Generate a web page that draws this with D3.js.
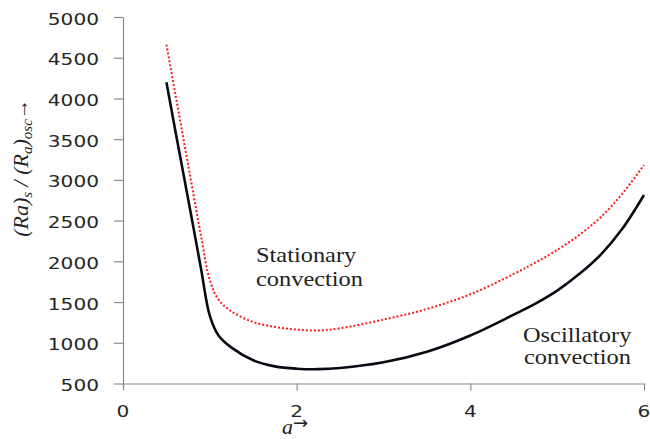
<!DOCTYPE html>
<html>
<head>
<meta charset="utf-8">
<script src="https://cdn.jsdelivr.net/npm/d3@7/dist/d3.min.js"></script>
<style>
	body { margin: 0; background: #fff; }
	svg { display: block; }
</style>
</head>
<body>
<script>
// wave number a
var waveNumbers = [0.5, 0.6, 0.7, 0.8, 0.9, 1.0, 1.1, 1.25, 1.5, 1.75, 2.0, 2.25, 2.5, 3.0, 3.5, 4.0, 4.5, 4.75, 5.0, 5.25, 5.5, 5.75, 6.0];
// (Ra)osc - oscillatory convection, solid black
var oscillatory = [4200, 3620, 3050, 2480, 1900, 1330, 1090, 940, 785, 710, 682, 676, 690, 760, 890, 1090, 1345, 1480, 1640, 1840, 2080, 2400, 2815];
// (Ra)s - stationary convection, red dotted
var stationary = [4660, 4070, 3480, 2890, 2300, 1770, 1530, 1385, 1255, 1195, 1162, 1152, 1178, 1285, 1415, 1595, 1845, 1985, 2140, 2320, 2540, 2830, 3183];
var xTicks = [0, 2, 4, 6];
var yTicks = [500, 1000, 1500, 2000, 2500, 3000, 3500, 4000, 4500, 5000];

var width = 650;
var height = 439;
var stretch = 1.22;

var xScale = d3.scaleLinear()
	.domain([0, 6])
	.range([123, 644]);

var yScale = d3.scaleLinear()
	.domain([500, 5000])
	.range([383.5, 17]);

var svg = d3.select('body')
	.append('svg')
	.attr('width', width)
	.attr('height', height);

// axes
var xAxis = d3.axisBottom(xScale)
	.tickValues(xTicks)
	.tickSizeInner(7)
	.tickSizeOuter(0)
	.tickFormat('');

var yAxis = d3.axisLeft(yScale)
	.tickValues(yTicks)
	.tickSizeInner(9)
	.tickSizeOuter(0)
	.tickFormat('');

svg.append('g')
	.attr('transform', 'translate(0,' + yScale(500) + ')')
	.call(xAxis);

svg.append('g')
	.attr('transform', 'translate(' + xScale(0) + ',0)')
	.call(yAxis);

svg.selectAll('.domain, .tick line')
	.attr('stroke', '#8a8a8a')
	.attr('stroke-width', 1.2);

// tick labels, drawn stretched like the original
svg.selectAll('.ylab')
	.data(yTicks)
	.enter()
	.append('text')
	.attr('class', 'ylab')
	.attr('transform', function(d) {
		return 'translate(99,' + (yScale(d) + 7.5) + ') scale(' + stretch + ',1)';
	})
	.attr('text-anchor', 'end')
	.attr('font-family', 'DejaVu Sans')
	.attr('font-size', 16.5)
	.attr('fill', '#262626')
	.text(function(d) { return d; });

svg.selectAll('.xlab')
	.data(xTicks)
	.enter()
	.append('text')
	.attr('class', 'xlab')
	.attr('transform', function(d) {
		return 'translate(' + xScale(d) + ',417) scale(' + stretch + ',1)';
	})
	.attr('text-anchor', 'middle')
	.attr('font-family', 'DejaVu Sans')
	.attr('font-size', 16.5)
	.attr('fill', '#262626')
	.text(function(d) { return d; });

// curves
var line = function(values) {
	return d3.line()
		.x(function(d, i) { return xScale(waveNumbers[i]); })
		.y(function(d) { return yScale(d); })
		.curve(d3.curveCatmullRom.alpha(0.5))(values);
};

svg.append('path')
	.attr('d', line(stationary))
	.attr('fill', 'none')
	.attr('stroke', '#ff1a1a')
	.attr('stroke-width', 2)
	.attr('stroke-dasharray', '2,2');

svg.append('path')
	.attr('d', line(oscillatory))
	.attr('fill', 'none')
	.attr('stroke', '#0a0a14')
	.attr('stroke-width', 2.6);

// annotations
var note = function(x, y, str) {
	svg.append('text')
		.attr('transform', 'translate(' + x + ',' + y + ') scale(' + stretch + ',1)')
		.attr('font-family', 'Liberation Serif')
		.attr('font-size', 20)
		.attr('fill', '#222')
		.text(str);
};
note(256, 262, 'Stationary');
note(256, 286, 'convection');
note(523, 342, 'Oscillatory');
note(524, 364, 'convection');

// y axis title
var yTitle = svg.append('text')
	.attr('transform', 'translate(28,168) rotate(-90)')
	.attr('text-anchor', 'middle')
	.attr('font-family', 'Liberation Serif')
	.attr('font-style', 'italic')
	.attr('font-size', 22)
	.attr('fill', '#222');
yTitle.append('tspan').text('(Ra)');
yTitle.append('tspan').attr('dy', 4).attr('font-size', 15).text('s');
yTitle.append('tspan').attr('dy', -4).text(' / (R');
yTitle.append('tspan').attr('dy', 4).attr('font-size', 15).text('a');
yTitle.append('tspan').attr('dy', -4).text(')');
yTitle.append('tspan').attr('dy', 4).attr('font-size', 15).text('osc');
yTitle.append('tspan').attr('dy', -4).attr('font-style', 'normal').attr('font-size', 20).text('→');

// x axis title
svg.append('text')
	.attr('x', 282)
	.attr('y', 434)
	.attr('font-family', 'Liberation Serif')
	.attr('font-style', 'italic')
	.attr('font-size', 22)
	.attr('fill', '#222')
	.text('a');

svg.append('text')
	.attr('x', 293)
	.attr('y', 429)
	.attr('font-family', 'DejaVu Sans')
	.attr('font-size', 18)
	.attr('fill', '#222')
	.text('→');
</script>
</body>
</html>
